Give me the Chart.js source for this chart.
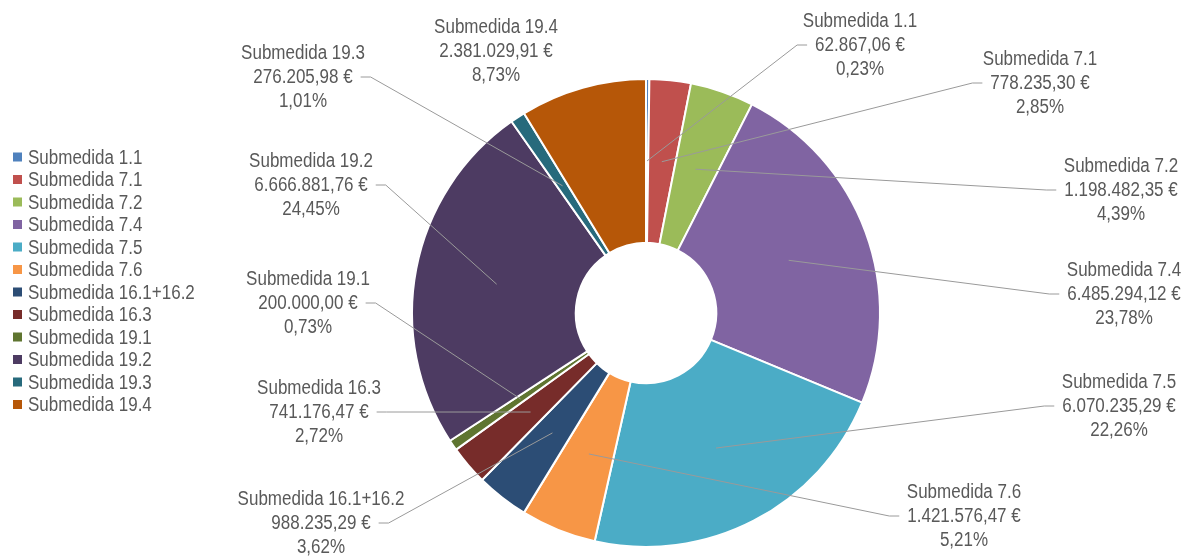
<!DOCTYPE html>
<html>
<head>
<meta charset="utf-8">
<script src="https://cdn.jsdelivr.net/npm/chart.js@4/dist/chart.umd.min.js"></script>
<style>
  html, body { margin: 0; padding: 0; background: #fff; }
  #wrap { width: 1194px; height: 558px; }
</style>
</head>
<body>
<div id="wrap"><canvas id="chart" width="1194" height="558"></canvas></div>
<script>
const categories = [
    "Submedida 1.1", "Submedida 7.1", "Submedida 7.2", "Submedida 7.4",
    "Submedida 7.5", "Submedida 7.6", "Submedida 16.1+16.2", "Submedida 16.3",
    "Submedida 19.1", "Submedida 19.2", "Submedida 19.3", "Submedida 19.4"
];
const amounts = [
    62867.06, 778235.30, 1198482.35, 6485294.12,
    6070235.29, 1421576.47, 988235.29, 741176.47,
    200000.00, 6666881.76, 276205.98, 2381029.91
];
const sliceColors = [
    "#4f81bd", "#c0504d", "#9bbb59", "#8064a2",
    "#4bacc6", "#f79646", "#2c4d75", "#772c2a",
    "#5f7530", "#4d3b62", "#276a7c", "#b65708"
];
// label block centre (x, y of middle line), and whether a leader line is drawn
const labelPos = [
    [860, 45], [1040, 83], [1121, 190], [1124, 294],
    [1119, 406], [964, 516], [321, 523], [319, 412],
    [308, 303], [311, 185], [303, 77], [496, 51]
];
const hasLeader = [true, true, true, true, true, true, true, true, true, true, true, false];

const TEXT_COLOR = "#595959";
const FONT = '20px "Liberation Sans", Arial, sans-serif';
const SQUEEZE = 0.85;

function formatEuro(v) {
    const parts = v.toFixed(2).split(".");
    const intPart = parts[0].replace(/\B(?=(\d{3})+(?!\d))/g, ".");
    return intPart + "," + parts[1] + " €";
}

function formatPct(v, total) {
    return (v / total * 100).toFixed(2).replace(".", ",") + "%";
}

function drawNarrow(ctx, text, x, y, align) {
    ctx.save();
    ctx.translate(x, y);
    ctx.scale(SQUEEZE, 1);
    ctx.textAlign = align;
    ctx.fillText(text, 0, 0);
    ctx.restore();
}

const labelsPlugin = {
    id: "outsideLabels",
    afterDraw(chart) {
        const ctx = chart.ctx;
        const meta = chart.getDatasetMeta(0);
        const total = amounts.reduce((a, b) => a + b, 0);
        ctx.save();
        ctx.font = FONT;
        ctx.textBaseline = "middle";
        ctx.fillStyle = TEXT_COLOR;

        // leader lines
        ctx.strokeStyle = "#9a9a9a";
        ctx.lineWidth = 1;
        for (let i = 0; i < categories.length; i++) {
            if (!hasLeader[i]) continue;
            const arc = meta.data[i];
            const anchor = arc.getCenterPoint();
            const [lx, ly] = labelPos[i];
            const valueText = formatEuro(amounts[i]);
            const half = ctx.measureText(valueText).width * SQUEEZE / 2;
            let sx, ex;
            if (anchor.x < lx) {
                sx = lx - half - 8;
                ex = sx - 10;
            } else {
                sx = lx + half + 8;
                ex = sx + 10;
            }
            ctx.beginPath();
            ctx.moveTo(sx, ly);
            ctx.lineTo(ex, ly);
            ctx.lineTo(anchor.x, anchor.y);
            ctx.stroke();
        }

        // label texts
        for (let i = 0; i < categories.length; i++) {
            const [lx, ly] = labelPos[i];
            drawNarrow(ctx, categories[i], lx, ly - 24, "center");
            drawNarrow(ctx, formatEuro(amounts[i]), lx, ly, "center");
            drawNarrow(ctx, formatPct(amounts[i], total), lx, ly + 24, "center");
        }

        // legend
        const legX = 13, legY = 157, step = 22.5;
        for (let i = 0; i < categories.length; i++) {
            const y = legY + i * step;
            ctx.fillStyle = sliceColors[i];
            ctx.fillRect(legX, y - 4.5, 9, 9);
            ctx.fillStyle = TEXT_COLOR;
            drawNarrow(ctx, categories[i], legX + 15, y + 1, "left");
        }
        ctx.restore();
    }
};

document.addEventListener("DOMContentLoaded", function () {
    const ctx = document.getElementById("chart").getContext("2d");
    new Chart(ctx, {
        type: "doughnut",
        data: {
            labels: categories,
            datasets: [{
                data: amounts,
                backgroundColor: sliceColors,
                borderColor: "#ffffff",
                borderWidth: 2
            }]
        },
        options: {
            responsive: false,
            animation: false,
            cutout: "30%",
            layout: {
                padding: { left: 411, right: 313, top: 78, bottom: 10 }
            },
            plugins: {
                legend: { display: false },
                tooltip: { enabled: false }
            }
        },
        plugins: [labelsPlugin]
    });
});
</script>
</body>
</html>
